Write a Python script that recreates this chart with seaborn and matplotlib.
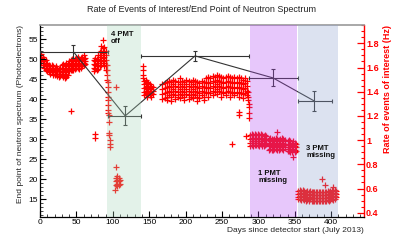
import matplotlib
matplotlib.use('Agg')
import matplotlib.pyplot as plt
from matplotlib.ticker import MultipleLocator, FormatStrFormatter
import seaborn as sns
import pandas as pd

# end point of neutron spectrum (left axis), one point per detector period
end_days = [46, 117, 213, 320, 377]
end_pe = [51.8, 35.8, 50.8, 45.3, 39.5]
end_pe_err = [1.6, 2.4, 1.25, 2.1, 2.5]
period_start = [0, 93, 139, 287, 354]
period_end = [93, 139, 287, 354, 401]

# shaded detector conditions
zone_start = [92, 288, 355]
zone_end = [139, 353, 410]
zone_color = ['#a5d4b9', '#b248f2', '#8ea2d0']
zone_text = ['4 PMT\noff', '1 PMT\nmissing', '3 PMT\nmissing']
zone_text_x = [97, 300, 366]
zone_text_y = [56.9, 22.3, 28.6]

# rate of events of interest (Hz): (day, [rates])
rate_rows = [
    (0, [1.70, 1.68, 1.66]), (2, [1.71, 1.69, 1.66, 1.64]), (4, [1.69, 1.67, 1.65, 1.62]),
    (6, [1.67, 1.65, 1.62, 1.60]), (8, [1.66, 1.63, 1.60, 1.58]), (10, [1.64, 1.61, 1.59, 1.57]),
    (12, [1.62, 1.60, 1.58, 1.56]), (14, [1.61, 1.59, 1.57, 1.55]), (16, [1.62, 1.59, 1.57]),
    (18, [1.61, 1.58, 1.56, 1.54]), (20, [1.60, 1.58, 1.56, 1.54]), (22, [1.61, 1.59, 1.57, 1.55]),
    (24, [1.60, 1.58, 1.55, 1.53]), (26, [1.59, 1.57, 1.55, 1.52]), (28, [1.60, 1.57, 1.55, 1.53]),
    (30, [1.62, 1.59, 1.56, 1.54]), (32, [1.63, 1.60, 1.57, 1.54, 1.52]),
    (34, [1.62, 1.59, 1.56, 1.53, 1.51]), (36, [1.64, 1.61, 1.58, 1.55, 1.52]),
    (38, [1.63, 1.60, 1.57, 1.54]), (40, [1.65, 1.62, 1.59, 1.57]), (42, [1.66, 1.63, 1.60, 1.58, 1.24]),
    (44, [1.67, 1.64, 1.61, 1.58]), (46, [1.66, 1.63, 1.60, 1.58]), (48, [1.67, 1.64, 1.61, 1.59]),
    (50, [1.68, 1.65, 1.62, 1.60]), (52, [1.69, 1.66, 1.63, 1.60]), (54, [1.67, 1.64, 1.61, 1.59]),
    (56, [1.68, 1.65, 1.62, 1.60]), (58, [1.69, 1.66, 1.63, 1.61]), (60, [1.70, 1.67, 1.64, 1.62]),
    (62, [1.68, 1.65, 1.63]),
    (74, [1.66, 1.63, 1.60, 1.57]), (75, [1.05, 1.02]), (76, [1.68, 1.65, 1.62, 1.59]),
    (78, [1.67, 1.64, 1.61, 1.58]), (80, [1.70, 1.66, 1.62, 1.59]), (82, [1.73, 1.69, 1.65, 1.61]),
    (84, [1.78, 1.74, 1.70, 1.66, 1.62]), (86, [1.83, 1.76, 1.72, 1.68, 1.64]),
    (88, [1.77, 1.73, 1.69, 1.65, 1.61]), (90, [1.74, 1.70, 1.66, 1.62, 1.58]),
    (92, [1.62, 1.58, 1.54, 1.50]), (93, [1.48, 1.44, 1.40, 1.36]), (94, [1.33, 1.29, 1.25, 1.22]),
    (95, [1.21, 1.15, 1.06, 1.04]), (96, [1.00, 0.97, 0.945]),
    (103, [0.59]), (104, [0.78, 0.69, 0.66, 0.63]), (105, [1.44]), (106, [0.70, 0.67, 0.64, 0.62]),
    (108, [0.69, 0.66, 0.63]), (110, [0.67, 0.64]),
    (141, [1.61, 1.58, 1.54, 1.51]), (143, [1.49, 1.46, 1.43, 1.40, 1.37]),
    (145, [1.50, 1.47, 1.44, 1.41, 1.38]), (147, [1.48, 1.45, 1.42, 1.39, 1.36]),
    (149, [1.47, 1.44, 1.41, 1.38]), (151, [1.46, 1.43, 1.40, 1.37]),
    (153, [1.45, 1.42, 1.39, 1.36]), (155, [1.44, 1.41, 1.38]),
    (168, [1.46, 1.42, 1.38, 1.34]), (171, [1.47, 1.43, 1.39, 1.35]),
    (174, [1.48, 1.44, 1.40, 1.36, 1.33]), (177, [1.49, 1.45, 1.41, 1.37]),
    (180, [1.48, 1.44, 1.40, 1.36, 1.32]), (183, [1.50, 1.46, 1.42, 1.38]),
    (186, [1.49, 1.45, 1.41, 1.37, 1.34]), (189, [1.48, 1.44, 1.40, 1.36]),
    (192, [1.51, 1.46, 1.42, 1.38, 1.35]), (195, [1.49, 1.45, 1.41, 1.37]),
    (198, [1.48, 1.44, 1.40, 1.36, 1.33]), (201, [1.50, 1.46, 1.42, 1.38]),
    (204, [1.49, 1.45, 1.41, 1.37, 1.34]), (207, [1.48, 1.44, 1.40, 1.36]),
    (210, [1.50, 1.46, 1.42, 1.38, 1.35]), (213, [1.49, 1.45, 1.41, 1.37]),
    (216, [1.48, 1.44, 1.40, 1.36, 1.32]), (219, [1.47, 1.43, 1.39, 1.35]),
    (222, [1.49, 1.45, 1.41, 1.37]), (225, [1.48, 1.44, 1.40, 1.36, 1.33]),
    (228, [1.51, 1.47, 1.43, 1.39]), (231, [1.52, 1.48, 1.44, 1.40, 1.36]),
    (234, [1.51, 1.47, 1.43, 1.39]), (237, [1.53, 1.49, 1.45, 1.41, 1.37]),
    (240, [1.52, 1.48, 1.44, 1.40]), (243, [1.54, 1.50, 1.46, 1.42, 1.38]),
    (246, [1.53, 1.49, 1.45, 1.41]), (249, [1.52, 1.48, 1.44, 1.40, 1.36]),
    (252, [1.51, 1.47, 1.43, 1.39]), (255, [1.52, 1.48, 1.44, 1.40, 1.37]),
    (258, [1.53, 1.49, 1.45, 1.41]), (261, [1.52, 1.48, 1.44, 1.40, 1.36]),
    (264, [1.51, 1.47, 1.43, 1.39, 0.97]), (267, [1.52, 1.48, 1.44, 1.40, 1.37]),
    (270, [1.51, 1.47, 1.43, 1.39]), (273, [1.52, 1.48, 1.44, 1.40, 1.36, 1.235, 1.207]),
    (276, [1.51, 1.47, 1.43, 1.39]), (279, [1.50, 1.46, 1.42, 1.38, 1.35]),
    (282, [1.51, 1.47, 1.43, 1.39]), (283, [1.03]), (284, [1.49, 1.45, 1.41, 1.37]),
    (286, [1.40, 1.36, 1.33]), (287, [1.30, 1.27, 1.22, 1.18]),
    (289, [1.04, 1.01, 0.98, 0.95]), (291, [1.05, 1.02, 0.99, 0.96]), (293, [1.04, 1.01, 0.98, 0.95]),
    (295, [1.05, 1.02, 0.99, 0.96]), (297, [1.04, 1.01, 0.98, 0.96]), (299, [1.05, 1.02, 0.99, 0.96]),
    (301, [1.04, 1.01, 0.98, 0.95]), (303, [1.05, 1.02, 0.99, 0.97]), (305, [1.04, 1.01, 0.98, 0.95]),
    (307, [1.03, 1.00, 0.97, 0.95]), (309, [1.04, 1.01, 0.98, 0.96]), (311, [1.03, 1.00, 0.97]),
    (314, [1.01, 0.98, 0.95, 0.92]), (316, [1.02, 0.99, 0.96, 0.93]), (318, [1.01, 0.98, 0.95, 0.92]),
    (320, [1.00, 0.97, 0.94, 0.92]), (322, [1.01, 0.98, 0.95, 0.93]), (324, [1.02, 0.99, 0.96, 0.93]),
    (325, [1.07]), (326, [1.01, 0.98, 0.95, 0.92]), (328, [1.00, 0.97, 0.94, 0.92]),
    (330, [1.01, 0.98, 0.95, 0.93]), (332, [1.02, 0.99, 0.96, 0.93]), (334, [1.01, 0.98, 0.95, 0.92]),
    (336, [1.00, 0.97, 0.94]),
    (340, [0.99, 0.96, 0.93, 0.91]), (342, [1.00, 0.97, 0.94, 0.91]), (344, [0.99, 0.96, 0.93, 0.90]),
    (346, [0.98, 0.95, 0.92, 0.90]), (348, [0.99, 0.96, 0.93, 0.86]), (350, [0.98, 0.95, 0.92, 0.90]),
    (352, [0.97, 0.94, 0.91]),
    (355, [0.58, 0.555, 0.53, 0.51]), (357, [0.59, 0.56, 0.535, 0.51]), (359, [0.58, 0.555, 0.53, 0.505]),
    (361, [0.585, 0.56, 0.535, 0.51]), (363, [0.58, 0.555, 0.53, 0.505]), (365, [0.575, 0.55, 0.525, 0.50]),
    (367, [0.58, 0.555, 0.53, 0.505]), (369, [0.575, 0.55, 0.525, 0.50]), (371, [0.58, 0.555, 0.53, 0.51]),
    (373, [0.575, 0.55, 0.525, 0.50]), (375, [0.57, 0.545, 0.52, 0.50]), (377, [0.575, 0.55, 0.525, 0.50]),
    (379, [0.57, 0.545, 0.52, 0.495]), (381, [0.575, 0.55, 0.525, 0.50]), (383, [0.57, 0.545, 0.52, 0.495]),
    (385, [0.575, 0.55, 0.525, 0.50]), (387, [0.57, 0.545, 0.52, 0.50]), (388, [0.676]),
    (389, [0.575, 0.55, 0.525, 0.50]), (391, [0.57, 0.545, 0.52, 0.495]), (392, [0.629]),
    (393, [0.575, 0.55, 0.525, 0.50]), (395, [0.58, 0.555, 0.53, 0.505]), (397, [0.575, 0.55, 0.525, 0.50]),
    (399, [0.58, 0.555, 0.53, 0.505]), (401, [0.585, 0.56, 0.535, 0.51]), (402, [0.615]),
    (403, [0.58, 0.555, 0.53, 0.505]), (405, [0.585, 0.56, 0.535, 0.51]), (407, [0.58, 0.555, 0.53]),
]

rate = pd.DataFrame([(d, r) for d, vals in rate_rows for r in vals], columns=['day', 'rate'])

sns.set_theme(style='ticks')
plt.rcParams['font.family'] = ['Liberation Sans', 'DejaVu Sans']

fig = plt.figure(figsize=(4.07, 2.42), dpi=100)
ax = fig.add_axes([0.0983, 0.1045, 0.796, 0.7935])
ax2 = ax.twinx()
ax.set_zorder(ax2.get_zorder() + 1)
ax.patch.set_visible(False)

# red rate points on the right axis
sns.scatterplot(data=rate, x='day', y='rate', ax=ax2, marker='+', color='#ff0000',
                s=13, linewidth=0.9, legend=False)

# end point with error bars on the left axis
xerr = [[c - s for c, s in zip(end_days, period_start)],
        [e - c for c, e in zip(end_days, period_end)]]
ax.errorbar(end_days, end_pe, yerr=end_pe_err, xerr=xerr, color='#333333',
            linewidth=0.8, elinewidth=0.8, capsize=1.5, capthick=0.8, zorder=3)

for s, e, c in zip(zone_start, zone_end, zone_color):
    ax.axvspan(s, e, color=c, alpha=0.3, linewidth=0, zorder=4)
for tx, ty, t in zip(zone_text_x, zone_text_y, zone_text):
    ax.text(tx, ty, t, fontsize=5.5, fontweight='bold', va='top', ha='left',
            color='#111111', zorder=6, linespacing=1.0)

ax.set_xlim(0, 445)
ax.set_ylim(10.6, 58.6)
ax2.set_ylim(0.367, 1.954)

ax.xaxis.set_major_locator(MultipleLocator(50))
ax.xaxis.set_minor_locator(MultipleLocator(10))
ax.yaxis.set_major_locator(MultipleLocator(5))
ax.yaxis.set_minor_locator(MultipleLocator(1))
ax2.yaxis.set_major_locator(MultipleLocator(0.2))
ax2.yaxis.set_minor_locator(MultipleLocator(0.05))
ax2.yaxis.set_major_formatter(FormatStrFormatter('%g'))

ax.tick_params(axis='both', which='major', direction='in', length=4, width=0.8,
               labelsize=6, pad=1.5, colors='black', top=False, right=False)
ax.tick_params(axis='both', which='minor', direction='in', length=2, width=0.6,
               top=False, right=False)
ax2.tick_params(axis='y', which='major', direction='in', length=5, width=0.9,
                labelsize=6.5, pad=1.5, colors='#ff0000')
ax2.tick_params(axis='y', which='minor', direction='in', length=2.5, width=0.8,
                colors='#ff0000')
for lab in ax2.get_yticklabels():
    lab.set_fontweight('bold')

ax.spines['right'].set_visible(False)
ax.spines['top'].set_color('#999999')
ax.spines['top'].set_linewidth(1.2)
for side in ['left', 'bottom']:
    ax.spines[side].set_color('black')
    ax.spines[side].set_linewidth(0.9)
for side in ['left', 'top', 'bottom']:
    ax2.spines[side].set_visible(False)
ax2.spines['right'].set_color('#ff0000')
ax2.spines['right'].set_linewidth(1.0)

ax.set_xlabel('Days since detector start (July 2013)', fontsize=6, loc='right', labelpad=1)
ax.set_ylabel('End point of neutron spectrum (Photoelectrons)', fontsize=6, loc='top', labelpad=3)
ax2.set_ylabel('Rate of events of interest (Hz)', fontsize=6.5, color='#ff0000',
               fontweight='bold', loc='top', labelpad=3)
ax.set_title('Rate of Events of Interest/End Point of Neutron Spectrum', fontsize=6.5,
             color='#222222', pad=9)

fig.savefig('out.png', dpi=100)
